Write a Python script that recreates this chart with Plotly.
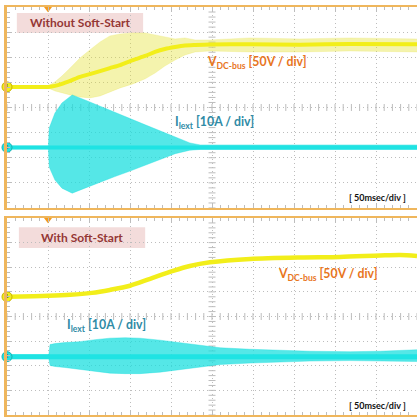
import plotly.graph_objects as go
import numpy as np

# ---------------- data (units: scope divisions; x: 50 ms/div) ----------------
# Panel 1: without soft-start
v1_t = [0, 1.00, 1.17, 1.34, 1.54, 1.78, 2.02, 2.27, 2.51, 2.76, 3.07, 3.37, 3.61, 3.85, 4.10, 4.34, 4.59, 4.95, 5.93, 7.15, 8.37, 10.0]
v1_mid = [0.82, 0.82, 0.86, 0.94, 1.06, 1.22, 1.33, 1.45, 1.57, 1.69, 1.89, 2.05, 2.21, 2.33, 2.41, 2.47, 2.49, 2.51, 2.52, 2.50, 2.53, 2.52]
v1_hi = [0.86, 0.86, 1.02, 1.25, 1.57, 1.97, 2.29, 2.61, 2.85, 2.93, 2.97, 2.97, 2.89, 2.81, 2.73, 2.77, 2.69, 2.69, 2.77, 2.73, 2.77, 2.73]
v1_lo = [0.78, 0.78, 0.66, 0.58, 0.50, 0.42, 0.38, 0.46, 0.62, 0.78, 0.94, 1.14, 1.37, 1.65, 1.89, 2.09, 2.21, 2.25, 2.21, 2.21, 2.25, 2.21]

i1_t = [0, 1.01, 1.03, 1.17, 1.34, 1.59, 1.90, 2.27, 2.63, 3.00, 3.37, 3.73, 4.10, 4.46, 4.71, 10.0]
i1_hi = [-1.53, -1.53, -0.82, -0.22, 0.18, 0.50, 0.30, 0.06, -0.20, -0.44, -0.69, -0.93, -1.18, -1.41, -1.49, -1.49]
i1_lo = [-1.65, -1.65, -2.37, -2.89, -3.21, -3.41, -3.21, -2.97, -2.75, -2.53, -2.29, -2.07, -1.84, -1.70, -1.67, -1.67]
i1_base = -1.59

# Panel 2: with soft-start
v2_t = [0, 1.00, 1.54, 2.07, 2.51, 3.00, 3.49, 4.05, 4.46, 4.95, 5.93, 7.15, 8.12, 9.10, 9.59, 10.0]
v2_mid = [0.80, 0.84, 0.88, 0.96, 1.08, 1.25, 1.53, 1.85, 2.05, 2.20, 2.34, 2.40, 2.42, 2.48, 2.50, 2.46]

i2_t = [0, 1.02, 1.05, 1.17, 1.41, 1.78, 2.15, 2.51, 2.88, 3.24, 3.73, 4.22, 4.71, 5.20, 5.93, 6.66, 7.39, 8.37, 9.10, 10.0]
i2_hi = [-1.55, -1.55, -1.14, -1.10, -1.06, -1.02, -0.94, -0.88, -0.86, -0.88, -0.96, -1.06, -1.18, -1.27, -1.33, -1.37, -1.41, -1.43, -1.41, -1.35]
i2_lo = [-1.71, -1.71, -1.99, -2.03, -2.07, -2.15, -2.23, -2.30, -2.32, -2.32, -2.26, -2.16, -2.03, -1.95, -1.89, -1.85, -1.81, -1.79, -1.81, -1.83]
i2_base = -1.63

titles = ["Without Soft-Start", "With Soft-Start"]
v_label = "V<sub>DC-bus</sub> [50V / div]"
i_label = "I<sub>lext</sub> [10A / div]"
time_label = "[ 50msec/div ]"

# ---------------- style ----------------
YEL = "#f2ee1a"
YEL_BAND = "rgba(228,224,50,0.40)"
CYAN = "#1fe3e3"
CYAN_BAND = "rgba(20,222,222,0.72)"
BORDER = "#efb65c"
GRID = "#bdbdbd"
ORANGE_TXT = "#e8761e"
TEAL_TXT = "#2f8ba6"
TITLE_TXT = "#953735"
TITLE_BOX = "#f3dcdb"
FONT = "Lato"

fig = go.Figure()

def band(x, hi, lo, color, xa, ya):
    fig.add_trace(go.Scatter(x=x, y=hi, mode="lines", line=dict(width=0.5, color=color),
                             xaxis=xa, yaxis=ya, hoverinfo="skip", showlegend=False))
    fig.add_trace(go.Scatter(x=x, y=lo, mode="lines", line=dict(width=0.5, color=color),
                             fill="tonexty", fillcolor=color,
                             xaxis=xa, yaxis=ya, hoverinfo="skip", showlegend=False))

def center_ticks(xa, ya):
    xs = np.arange(0, 10.01, 0.2)
    ys = np.arange(-4, 4.01, 0.2)
    fig.add_trace(go.Scatter(x=xs, y=[0] * len(xs), mode="markers",
                             marker=dict(symbol="line-ns-open", size=5, color=GRID, line=dict(width=1, color=GRID)),
                             xaxis=xa, yaxis=ya, hoverinfo="skip", showlegend=False))
    fig.add_trace(go.Scatter(x=[5] * len(ys), y=ys, mode="markers",
                             marker=dict(symbol="line-ew-open", size=5, color=GRID, line=dict(width=1, color=GRID)),
                             xaxis=xa, yaxis=ya, hoverinfo="skip", showlegend=False))

def markers(xa, ya, vbase, ibase):
    fig.add_trace(go.Scatter(x=[0], y=[vbase], mode="markers+text", text=["1"],
                             textfont=dict(size=6, color="#555"),
                             marker=dict(size=10, color=YEL, line=dict(width=1, color="#c8b400")),
                             cliponaxis=False, xaxis=xa, yaxis=ya, hoverinfo="skip", showlegend=False))
    fig.add_trace(go.Scatter(x=[0], y=[ibase], mode="markers+text", text=["2"],
                             textfont=dict(size=6, color="#555"),
                             marker=dict(size=10, color=CYAN, line=dict(width=1, color="#18b0b0")),
                             cliponaxis=False, xaxis=xa, yaxis=ya, hoverinfo="skip", showlegend=False))
    fig.add_trace(go.Scatter(x=[1], y=[3.93], mode="markers",
                             marker=dict(size=7, symbol="triangle-down", color="#f39a1e"),
                             cliponaxis=False, xaxis=xa, yaxis=ya, hoverinfo="skip", showlegend=False))

# panel 1
center_ticks("x", "y")
band(v1_t, v1_hi, v1_lo, YEL_BAND, "x", "y")
fig.add_trace(go.Scatter(x=v1_t, y=v1_mid, mode="lines", line=dict(width=4, color=YEL, shape="spline", smoothing=0.6),
                         xaxis="x", yaxis="y", hoverinfo="skip", showlegend=False))
band(i1_t, i1_hi, i1_lo, CYAN_BAND, "x", "y")
fig.add_trace(go.Scatter(x=[0, 10], y=[i1_base, i1_base], mode="lines", line=dict(width=4, color=CYAN),
                         xaxis="x", yaxis="y", hoverinfo="skip", showlegend=False))
markers("x", "y", v1_mid[0], i1_base)

# panel 2
center_ticks("x2", "y2")
fig.add_trace(go.Scatter(x=v2_t, y=v2_mid, mode="lines", line=dict(width=4.5, color=YEL, shape="spline", smoothing=0.8),
                         xaxis="x2", yaxis="y2", hoverinfo="skip", showlegend=False))
band(i2_t, i2_hi, i2_lo, CYAN_BAND, "x2", "y2")
fig.add_trace(go.Scatter(x=[0, 10], y=[i2_base, i2_base], mode="lines", line=dict(width=5, color=CYAN),
                         xaxis="x2", yaxis="y2", hoverinfo="skip", showlegend=False))
markers("x2", "y2", v2_mid[0], i2_base)

xax = dict(range=[0, 10], dtick=1, tick0=0, showticklabels=False, showgrid=True,
           gridcolor=GRID, griddash="1px,3px", gridwidth=1, zeroline=False,
           ticks="inside", ticklen=4, tickcolor=GRID,
           minor=dict(dtick=0.2, ticks="inside", ticklen=3, tickcolor=GRID, showgrid=False),
           showline=True, linecolor=BORDER, linewidth=2, mirror="ticks", fixedrange=True)
yax = dict(range=[-4, 4], dtick=1, tick0=0, showticklabels=False, showgrid=True,
           gridcolor=GRID, griddash="1px,3px", gridwidth=1, zeroline=False,
           ticks="inside", ticklen=4, tickcolor=GRID,
           minor=dict(dtick=0.2, ticks="inside", ticklen=3, tickcolor=GRID, showgrid=False),
           showline=True, linecolor=BORDER, linewidth=2.5, mirror=False, fixedrange=True)

fig.update_layout(
    width=417, height=417,
    margin=dict(l=7, r=0, t=7, b=2),
    paper_bgcolor="white", plot_bgcolor="white",
    showlegend=False,
    xaxis=dict(xax, domain=[0, 1], anchor="y"),
    yaxis=dict(yax, domain=[0.5074, 1], anchor="x"),
    xaxis2=dict(xax, domain=[0, 1], anchor="y2"),
    yaxis2=dict(yax, domain=[0, 0.4828], anchor="x2"),
    font=dict(family=FONT, size=12),
)

shapes = [
    dict(type="rect", xref="x", yref="y", x0=0.24, x1=3.32, y0=2.97, y1=3.76,
         fillcolor=TITLE_BOX, line=dict(width=0), layer="below"),
    dict(type="rect", xref="x2", yref="y2", x0=0.29, x1=3.37, y0=2.78, y1=3.63,
         fillcolor=TITLE_BOX, line=dict(width=0), layer="below"),
]
fig.update_layout(shapes=shapes)

ann = []
def A(text, xr, yr, x, y, size, color, xanchor="left"):
    ann.append(dict(text=text, xref=xr, yref=yr, x=x, y=y, xanchor=xanchor, yanchor="middle",
                    showarrow=False, font=dict(size=size, color=color, family=FONT, weight="bold")))

A(titles[0], "x", "y", 1.78, 3.37, 12, TITLE_TXT, "center")
A(titles[1], "x2", "y2", 1.83, 3.19, 12, TITLE_TXT, "center")
A(v_label, "x", "y", 4.83, 1.80, 12.3, ORANGE_TXT)
A(i_label, "x", "y", 4.05, -0.58, 12.3, TEAL_TXT)
A(time_label, "x", "y", 8.29, -3.57, 9, "#111")
A(v_label, "x2", "y2", 6.56, 1.69, 12.3, ORANGE_TXT)
A(i_label, "x2", "y2", 1.41, -0.37, 12.3, TEAL_TXT)
A(time_label, "x2", "y2", 8.29, -3.61, 9, "#111")
fig.update_layout(annotations=ann)

fig.write_html("out.html", config={"displayModeBar": False},
               post_script="document.body.style.margin='0';document.body.style.overflow='hidden';")
